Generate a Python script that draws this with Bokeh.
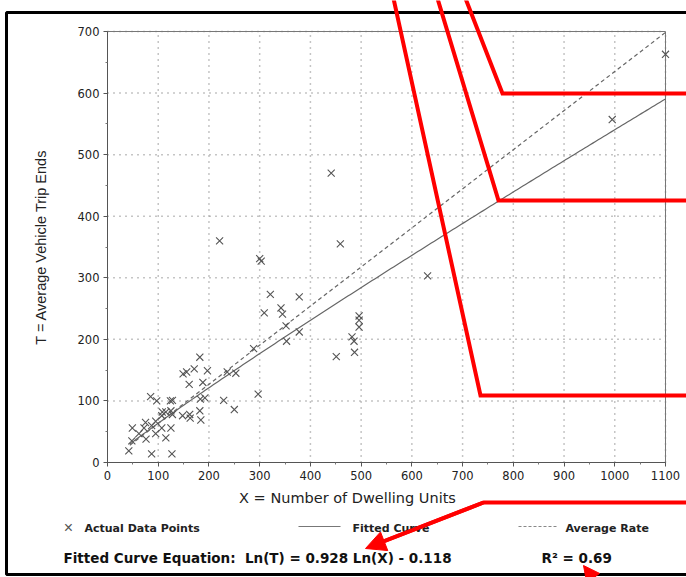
import numpy as np
from bokeh.plotting import figure
from bokeh.models import (Range1d, FixedTicker, Arrow, NormalHead, Label,
                          LinearAxis)
from bokeh.embed import file_html
from bokeh.resources import INLINE

# ---------------- data ----------------
units = [42, 48, 49, 62, 72, 75, 76, 85, 87, 87, 95, 95, 97, 107, 107, 108,
         115, 115, 124, 128, 125, 128, 125, 127, 148, 149, 156, 161, 162, 163,
         171, 182, 182, 184, 188, 192, 197, 183,
         221, 229, 236, 250, 253, 288, 297, 300, 303, 309, 321, 342, 345, 352,
         353, 378, 378, 441, 451, 459, 482, 486, 487, 496, 496, 496, 631, 995,
         1100]
trips = [19, 35, 56, 47, 56, 65, 38, 107, 60, 14, 67, 47, 100, 76, 56, 82,
         40, 82, 100, 101, 84, 78, 56, 14, 76, 144, 147, 127, 78, 72,
         152, 171, 84, 69, 130, 105, 149, 103,
         360, 101, 147, 86, 145, 185, 111, 331, 327, 243, 273, 251, 241, 222,
         197, 269, 212, 470, 172, 355, 204, 197, 179, 238, 231, 220, 303, 557,
         663]

fit_slope = 0.928          # Ln(T) = 0.928 Ln(X) - 0.118
fit_intercept = -0.118
avg_rate = 0.635
x_min, x_max = 44, 1100

x_lo, x_hi = 0, 1100
y_lo, y_hi = 0, 700
x_ticks = list(range(0, 1101, 100))
y_ticks = list(range(0, 701, 100))
x_minor = list(range(50, 1100, 100))
y_minor = list(range(50, 700, 100))

x_title = "X = Number of Dwelling Units"
y_title = "T = Average Vehicle Trip Ends"
legend_labels = ["Actual Data Points", "Fitted Curve", "Average Rate"]
equation = "Fitted Curve Equation:\u00a0\u00a0Ln(T) = 0.928 Ln(X) - 0.118"
r_squared = "R² = 0.69"

# ---------------- layout helpers (pixel -> data) ----------------
W, H = 686, 577
FL, FR, FT, FB = 107, 665, 31, 462   # plot-area edges in page pixels


def dx(px):
    return x_lo + (px - FL) * (x_hi - x_lo) / (FR - FL)


def dy(py):
    return y_lo + (FB - py) * (y_hi - y_lo) / (FB - FT)


p = figure(width=W, height=H, output_backend="svg", toolbar_location=None,
           x_range=Range1d(dx(0), dx(W)), y_range=Range1d(dy(H), dy(0)),
           x_axis_type=None, y_axis_type=None,
           min_border=0, min_border_left=0, min_border_right=0,
           min_border_top=0, min_border_bottom=0,
           background_fill_color="white", border_fill_color="white")
p.outline_line_color = None
p.xgrid.visible = False
p.ygrid.visible = False

# ---------------- grid (dotted) ----------------
p.segment(x0=x_ticks[1:], y0=y_lo, x1=x_ticks[1:], y1=y_hi,
          line_color="#8a8a8a", line_dash="1 5", line_width=1.5)
p.segment(x0=x_lo, y0=y_ticks[1:], x1=x_hi, y1=y_ticks[1:],
          line_color="#8a8a8a", line_dash="1 5", line_width=1.5)

# plot-area box
p.quad(left=x_lo, right=x_hi, bottom=y_lo, top=y_hi, fill_alpha=0,
       line_color="#777777", line_width=1)

# ---------------- axes at fixed locations ----------------
xaxis = LinearAxis(fixed_location=y_lo, bounds=(x_lo, x_hi),
                   ticker=FixedTicker(ticks=x_ticks, minor_ticks=x_minor))
yaxis = LinearAxis(fixed_location=x_lo, bounds=(y_lo, y_hi),
                   axis_label=y_title,
                   ticker=FixedTicker(ticks=y_ticks, minor_ticks=y_minor))
for ax in (xaxis, yaxis):
    ax.axis_line_color = "#555555"
    ax.major_tick_line_color = "#555555"
    ax.minor_tick_line_color = "#777777"
    ax.major_tick_out = 4
    ax.major_tick_in = 0
    ax.minor_tick_out = 2
    ax.minor_tick_in = 0
    ax.major_label_text_font = "DejaVu Sans"
    ax.major_label_text_font_size = "11.5px"
    ax.major_label_text_color = "#222222"
    ax.axis_label_text_font = "Liberation Sans"
    ax.axis_label_text_font_size = "14.5px"
    ax.axis_label_text_font_style = "normal"
    ax.axis_label_text_color = "#222222"
xaxis.major_label_standoff = 4
yaxis.major_label_standoff = 4
yaxis.axis_label_standoff = 26
p.add_layout(xaxis, "below")
p.add_layout(yaxis, "left")

p.add_layout(Label(x=dx(347), y=dy(497), text=x_title,
                   text_font="DejaVu Sans", text_font_size="14.5px",
                   text_color="#222222", text_align="center",
                   text_baseline="middle"))

# ---------------- curves ----------------
xs = np.linspace(x_min, x_max, 200)
fit = np.exp(fit_slope * np.log(xs) + fit_intercept)
p.line(xs, fit, line_color="#666666", line_width=1.2)
p.line([x_min, x_max], [avg_rate * x_min, avg_rate * x_max],
       line_color="#666666", line_width=1.2, line_dash="4 3")

p.scatter(units, trips, marker="x", size=10, line_color="#555555",
          line_width=1.1)

# ---------------- legend & equation (below the chart) ----------------
legend_font = dict(text_font="DejaVu Sans", text_font_style="bold",
                   text_font_size="11px", text_color="#222222",
                   text_baseline="middle")
p.add_layout(Label(x=dx(68), y=dy(527), text="×", text_font_size="16px",
                   text_color="#555555", text_align="center",
                   text_baseline="middle"))
p.add_layout(Label(x=dx(84), y=dy(528), text=legend_labels[0],
                   **legend_font))
p.line([dx(298), dx(340)], [dy(526), dy(526)], line_color="#777777",
       line_width=1.2)
p.add_layout(Label(x=dx(352), y=dy(528), text=legend_labels[1],
                   **legend_font))
p.line([dx(518), dx(556)], [dy(526), dy(526)], line_color="#888888",
       line_width=1.2, line_dash="3 2")
p.add_layout(Label(x=dx(565), y=dy(528), text=legend_labels[2],
                   **legend_font))

eq_font = dict(text_font="DejaVu Sans", text_font_style="bold",
               text_font_size="13.5px", text_color="#111111",
               text_baseline="middle")
p.add_layout(Label(x=dx(63), y=dy(557), text=equation, **eq_font))
p.add_layout(Label(x=dx(541), y=dy(557), text=r_squared, **eq_font))

# ---------------- outer scanned border ----------------
p.line([dx(700), dx(6), dx(6), dx(700)], [dy(12), dy(12), dy(574), dy(574)],
       line_color="black", line_width=3)

# ---------------- red annotation overlays ----------------
red = "#ff0000"
polylines = [
    ([393, 480, 690], [-2, 395, 395]),
    ([437, 498, 690], [-2, 200, 200]),
    ([465, 502, 690], [-2, 93, 93]),
]
for pxs, pys in polylines:
    p.line([dx(v) for v in pxs], [dy(v) for v in pys], line_color=red,
           line_width=4, line_join="miter")
p.line([dx(690), dx(483), dx(380)], [dy(502), dy(502), dy(542)],
       line_color=red, line_width=4)
p.add_layout(Arrow(x_start=dx(483), y_start=dy(502), x_end=dx(365),
                   y_end=dy(548), line_color=red, line_width=4,
                   end=NormalHead(size=20, fill_color=red, line_color=red)))
p.add_layout(Arrow(x_start=dx(602), y_start=dy(590), x_end=dx(583),
                   y_end=dy(565), line_color=red, line_width=4,
                   end=NormalHead(size=16, fill_color=red, line_color=red)))

open("out.html", "w").write(file_html(p, INLINE))
